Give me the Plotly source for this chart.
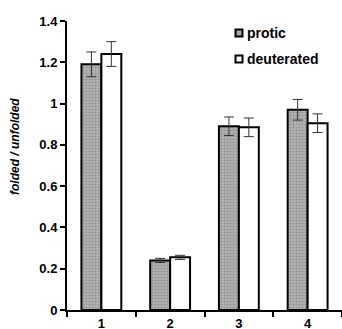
import plotly.graph_objects as go

categories = ["1", "2", "3", "4"]
protic = [1.19, 0.24, 0.89, 0.97]
protic_err = [0.06, 0.01, 0.045, 0.05]
deuterated = [1.24, 0.255, 0.885, 0.905]
deuterated_err = [0.06, 0.01, 0.045, 0.045]
y_ticks = [0, 0.2, 0.4, 0.6, 0.8, 1, 1.2, 1.4]
series_names = ["protic", "deuterated"]

FONT = "Liberation Sans, Arial, sans-serif"
W, H = 342, 329
ML, MR, MT, MB = 67, 0, 21, 19
PW, PH = W - ML - MR, H - MT - MB

def px_x(px):
    return (px - ML) / PW

def px_y(py):
    return (H - MB - py) / PH

GREY = "#a4a4a4"
fills = [GREY, "white"]

fig = go.Figure()
fig.add_trace(go.Bar(
    x=categories, y=protic, name=series_names[0],
    marker=dict(color=GREY, line=dict(color="black", width=2),
                pattern=dict(shape=".", fgcolor="#6e6e6e", bgcolor="#b4b4b4", size=3, solidity=0.4)),
    error_y=dict(type="data", array=protic_err, color="#333333", thickness=1, width=5),
))
fig.add_trace(go.Bar(
    x=categories, y=deuterated, name=series_names[1],
    marker=dict(color="white", line=dict(color="black", width=2)),
    error_y=dict(type="data", array=deuterated_err, color="#333333", thickness=1, width=5),
))

fig.update_layout(
    width=W, height=H,
    margin=dict(l=ML, r=MR, t=MT, b=MB, autoexpand=False),
    paper_bgcolor="white", plot_bgcolor="white",
    barmode="group", bargap=0.42, bargroupgap=0,
    font=dict(family=FONT, size=13, color="black"),
    showlegend=False,
    xaxis=dict(type="category", range=[-0.5, 3.5], showline=True, linecolor="black", linewidth=2,
               ticks="outside", tickson="boundaries", ticklen=5, tickwidth=2, tickcolor="black",
               automargin=False,
               showgrid=False, tickfont=dict(family=FONT, size=13, weight="bold")),
    yaxis=dict(range=[0, 1.4], tickvals=y_ticks, showline=True, linecolor="black", linewidth=2,
               ticks="outside", ticklen=5, tickwidth=2, tickcolor="black", automargin=False,
               showgrid=False, zeroline=False,
               tickfont=dict(family=FONT, size=13, weight="bold")),
)

# legend drawn as key squares plus text
for i, (name, fill) in enumerate(zip(series_names, fills)):
    cy = 33 + 26 * i
    fig.add_shape(type="rect", xref="paper", yref="paper",
                  x0=px_x(235.5), x1=px_x(242.5), y0=px_y(cy - 3.5), y1=px_y(cy + 3.5),
                  line=dict(color="black", width=2), fillcolor=fill)
    fig.add_annotation(text="<b>" + name + "</b>", xref="paper", yref="paper",
                       x=px_x(245), y=px_y(cy), xanchor="left", yanchor="middle",
                       showarrow=False, font=dict(family=FONT, size=14, color="black"))

fig.add_annotation(text="<b><i>folded / unfolded</i></b>", xref="paper", yref="paper",
                   x=px_x(15), y=px_y(147), xanchor="center", yanchor="middle", textangle=-90,
                   showarrow=False, font=dict(family=FONT, size=12, color="black"))

fig.write_html("out.html", config={"displayModeBar": False},
               post_script="document.body.style.margin='0px';document.body.style.overflow='hidden';")
